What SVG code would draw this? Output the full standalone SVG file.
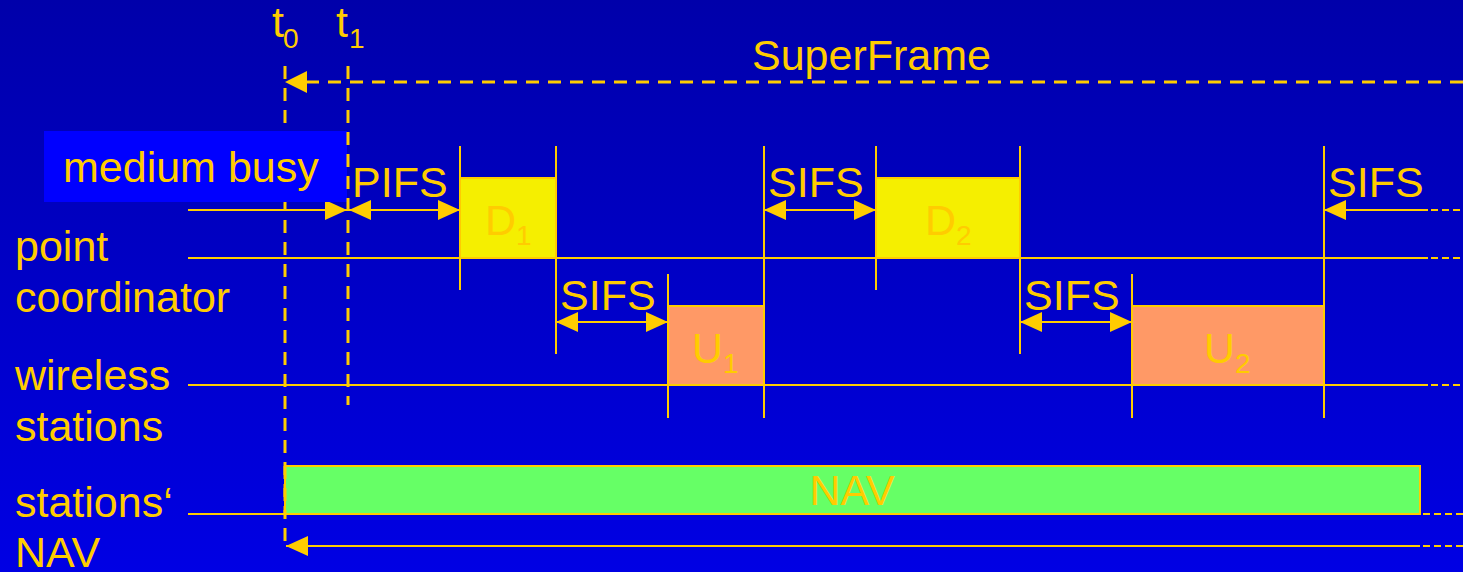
<svg xmlns="http://www.w3.org/2000/svg" width="1463" height="572" viewBox="0 0 1463 572">
<defs>
<linearGradient id="bg" x1="0" y1="0" x2="0" y2="1">
<stop offset="0" stop-color="#0000AA"/>
<stop offset="1" stop-color="#0000E4"/>
</linearGradient>
<marker id="ah" viewBox="0 0 22 20" refX="22" refY="10" markerWidth="22" markerHeight="20" markerUnits="userSpaceOnUse" orient="auto-start-reverse">
<path d="M0,0 L22,10 L0,20 Z" fill="#FFCC00"/>
</marker>
</defs>
<style>
text{font-family:"Liberation Sans",Arial,sans-serif;fill:#FFCC00;font-size:43px}
.sub{font-size:28px}
.ln{stroke:#FFCC00;stroke-width:2;fill:none}
.dsh{stroke:#FFCC00;stroke-width:3;fill:none;stroke-dasharray:13 9}
.tail{stroke:#FFCC00;stroke-width:2;fill:none;stroke-dasharray:7 4}
.box{stroke:#FFCC00;stroke-width:2}
</style>
<rect width="1463" height="572" fill="url(#bg)"/>

<g id="labels">
<text x="15" y="261">point</text>
<text x="15" y="312">coordinator</text>
<text x="15" y="390">wireless</text>
<text x="15" y="441">stations</text>
<text x="15" y="517">stations‘</text>
<text x="15" y="567">NAV</text>
<text x="272" y="37">t</text><text class="sub" x="283" y="48">0</text>
<text x="336" y="37">t</text><text class="sub" x="349" y="48">1</text>
<text x="752" y="70">SuperFrame</text>
</g>

<g id="connectors">
<line class="ln" x1="188" y1="258" x2="1428" y2="258"/>
<line class="tail" x1="1431" y1="258" x2="1463" y2="258"/>
<line class="ln" x1="188" y1="385" x2="1428" y2="385"/>
<line class="tail" x1="1431" y1="385" x2="1463" y2="385"/>
<line class="ln" x1="188" y1="514" x2="1420" y2="514"/>
<line class="tail" x1="1423" y1="514" x2="1463" y2="514"/>
<line class="ln" x1="460" y1="146" x2="460" y2="290"/>
<line class="ln" x1="556" y1="146" x2="556" y2="354"/>
<line class="ln" x1="668" y1="274" x2="668" y2="418"/>
<line class="ln" x1="764" y1="146" x2="764" y2="418"/>
<line class="ln" x1="876" y1="146" x2="876" y2="290"/>
<line class="ln" x1="1020" y1="146" x2="1020" y2="354"/>
<line class="ln" x1="1132" y1="274" x2="1132" y2="418"/>
<line class="ln" x1="1324" y1="146" x2="1324" y2="418"/>
<line class="dsh" x1="285" y1="66" x2="285" y2="546"/>
<line class="dsh" x1="1463" y1="82" x2="300" y2="82"/>
<path d="M285,82 L307,71 L307,93 Z" fill="#FFCC00"/>
<line class="ln" x1="188" y1="210" x2="347" y2="210" marker-end="url(#ah)"/>
<line class="ln" x1="349" y1="210" x2="460" y2="210" marker-start="url(#ah)" marker-end="url(#ah)"/>
<line class="ln" x1="556" y1="322" x2="668" y2="322" marker-start="url(#ah)" marker-end="url(#ah)"/>
<line class="ln" x1="764" y1="210" x2="876" y2="210" marker-start="url(#ah)" marker-end="url(#ah)"/>
<line class="ln" x1="1020" y1="322" x2="1132" y2="322" marker-start="url(#ah)" marker-end="url(#ah)"/>
<line class="ln" x1="1324" y1="210" x2="1428" y2="210" marker-start="url(#ah)"/>
<line class="tail" x1="1431" y1="210" x2="1463" y2="210"/>
<line class="ln" x1="286" y1="546" x2="1420" y2="546" marker-start="url(#ah)"/>
<line class="tail" x1="1423" y1="546" x2="1463" y2="546"/>
</g>

<g id="busy">
<rect x="44" y="131" width="303" height="71" fill="#0000FF"/>
<text x="63" y="182">medium busy</text>
</g>
<g id="t1">
<line class="dsh" x1="348" y1="66" x2="348" y2="405"/>
</g>

<g id="interval-labels">
<text x="352" y="197">PIFS</text>
<text x="560" y="310">SIFS</text>
<text x="768" y="197">SIFS</text>
<text x="1024" y="310">SIFS</text>
<text x="1328" y="197">SIFS</text>
</g>

<g id="D1">
<rect class="box" x="460" y="178" width="96" height="80" fill="#F5EF00"/>
<text x="485" y="235">D</text><text class="sub" x="516" y="245">1</text>
</g>
<g id="U1">
<rect class="box" x="668" y="306" width="96" height="79" fill="#FF9966"/>
<text x="692" y="363">U</text><text class="sub" x="723" y="373">1</text>
</g>
<g id="D2">
<rect class="box" x="876" y="178" width="144" height="80" fill="#F5EF00"/>
<text x="925" y="235">D</text><text class="sub" x="956" y="245">2</text>
</g>
<g id="U2">
<rect class="box" x="1132" y="306" width="192" height="79" fill="#FF9966"/>
<text x="1204" y="363">U</text><text class="sub" x="1235" y="373">2</text>
</g>
<g id="NAV">
<rect class="box" x="285" y="466" width="1135" height="48" fill="#66FF66"/>
<text x="852" y="505" text-anchor="middle">NAV</text>
<line class="dsh" x1="285" y1="466" x2="285" y2="514"/>
</g>
</svg>
